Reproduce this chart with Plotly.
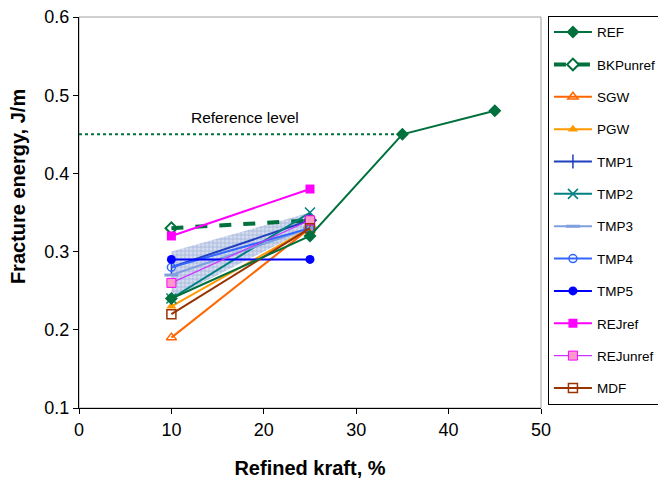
import plotly.graph_objects as go

# Refined kraft content (%) and fracture energy (J/m) per pulp series
x_ref = [10, 25, 35, 45]
y_ref = [0.24, 0.32, 0.45, 0.48]
x_pair = [10, 25]
series = [
    # name, values at 10 % and 25 %
    ("BKPunref", [0.33, 0.34]),
    ("SGW", [0.19, 0.33]),
    ("PGW", [0.23, 0.33]),
    ("TMP1", [0.28, 0.34]),
    ("TMP2", [0.24, 0.35]),
    ("TMP3", [0.27, 0.33]),
    ("TMP4", [0.28, 0.33]),
    ("TMP5", [0.29, 0.29]),
    ("REJref", [0.32, 0.38]),
    ("REJunref", [0.26, 0.34]),
    ("MDF", [0.22, 0.33]),
]
# TMP range band (upper and lower edge at 10 % and 25 %)
band_upper = [0.30, 0.35]
band_lower = [0.24, 0.33]
# reference level line
ref_level_x = [0, 35]
ref_level_y = [0.45, 0.45]

x_ticks = [0, 10, 20, 30, 40, 50]
y_ticks = [0.1, 0.2, 0.3, 0.4, 0.5, 0.6]

styles = {
    "BKPunref": dict(line=dict(color="#00703C", width=4, dash="dash"),
                     marker=dict(symbol="diamond-open", size=9, color="#00703C", line=dict(width=2))),
    "SGW": dict(line=dict(color="#FF6600", width=2),
                marker=dict(symbol="triangle-up-open", size=9, color="#FF6600", line=dict(width=1.5))),
    "PGW": dict(line=dict(color="#FF9900", width=2),
                marker=dict(symbol="triangle-up", size=9, color="#FF9900")),
    "TMP1": dict(line=dict(color="#1F3FBF", width=2),
                 marker=dict(symbol="line-ns-open", size=10, color="#1F3FBF", line=dict(width=1.5, color="#1F3FBF"))),
    "TMP2": dict(line=dict(color="#008080", width=2),
                 marker=dict(symbol="x-thin-open", size=10, color="#008080", line=dict(width=1.5, color="#008080"))),
    "TMP3": dict(line=dict(color="#7F9FDF", width=2),
                 marker=dict(symbol="line-ew-open", size=10, color="#7F9FDF", line=dict(width=3, color="#7F9FDF"))),
    "TMP4": dict(line=dict(color="#3366FF", width=2),
                 marker=dict(symbol="circle-open", size=8, color="#3366FF", line=dict(width=1.5))),
    "TMP5": dict(line=dict(color="#0000FF", width=2),
                 marker=dict(symbol="circle", size=9, color="#0000FF")),
    "REJref": dict(line=dict(color="#FF00FF", width=2),
                   marker=dict(symbol="square", size=9, color="#FF00FF")),
    "REJunref": dict(line=dict(color="#CC33FF", width=1.2),
                     marker=dict(symbol="square", size=9, color="#FF99CC", line=dict(color="#FF00FF", width=1))),
    "MDF": dict(line=dict(color="#993300", width=2),
                marker=dict(symbol="square-open", size=9, color="#993300", line=dict(width=1.5))),
}

fig = go.Figure()

# shaded TMP band
fig.add_trace(go.Scatter(
    x=x_pair + x_pair[::-1], y=band_upper + band_lower[::-1],
    fill="toself", mode="none", showlegend=False, hoverinfo="skip",
    fillcolor="rgba(190,203,232,1)",
    fillpattern=dict(shape="+", fgcolor="#7F96CC", bgcolor="#D4DCEF",
                     size=4, solidity=0.4),
))

fig.add_trace(go.Scatter(
    x=ref_level_x, y=ref_level_y, mode="lines", showlegend=False,
    line=dict(color="#00703C", width=2, dash="dot"),
))

fig.add_trace(go.Scatter(
    x=x_ref, y=y_ref, name="REF", mode="lines+markers", legendgroup="REF",
    line=dict(color="#00703C", width=2),
    marker=dict(symbol="diamond", size=10, color="#00703C"),
))
for name, vals in series:
    fig.add_trace(go.Scatter(x=x_pair, y=vals, name=name, mode="lines+markers",
                             legendgroup=name, **styles[name]))

# draw order: series drawn later cover earlier ones; keep REF on top near 25 %
fig.data = fig.data[:2] + fig.data[3:] + (fig.data[2],)
# keep legend order
for i, name in enumerate(["REF"] + [s[0] for s in series]):
    for tr in fig.data:
        if tr.name == name:
            tr.legendrank = i + 1

fig.add_annotation(x=18, y=0.472, text="Reference level", showarrow=False,
                   font=dict(size=15.5, color="#000000"))

# y-axis title, placed a little above the axis centre
fig.add_annotation(xref="paper", yref="paper", x=-0.132, y=0.565,
                   text="<b>Fracture energy, J/m</b>", textangle=-90, showarrow=False,
                   xanchor="center", yanchor="middle", font=dict(size=20, color="#000000"))

# light frame on top/right of plot area
fig.add_shape(type="rect", xref="paper", yref="paper", x0=0, y0=0, x1=1, y1=1,
              line=dict(color="#A0A0A0", width=1), layer="below")

fig.update_layout(
    width=658, height=480,
    margin=dict(l=79, r=117, t=17, b=72, autoexpand=False),
    paper_bgcolor="white", plot_bgcolor="white",
    font=dict(family="Liberation Sans, Arial, sans-serif", color="#000000"),
    legend=dict(x=1.015, xanchor="left", y=1.003, yanchor="top",
                bordercolor="#000000", borderwidth=1, bgcolor="white",
                font=dict(size=13.5), tracegroupgap=11.8, itemwidth=38,
                traceorder="grouped", maxheight=460),
    xaxis=dict(range=[0, 50], tickvals=x_ticks, showgrid=False, zeroline=False,
               showline=True, linecolor="#000000", linewidth=1,
               ticks="outside", ticklen=5, tickcolor="#000000",
               tickfont=dict(size=18),
               title=dict(text="<b>Refined kraft, %</b>", font=dict(size=20), standoff=22)),
    yaxis=dict(range=[0.1, 0.6], tickvals=y_ticks, tickformat=".1f", showgrid=False,
               zeroline=False, showline=True, linecolor="#000000", linewidth=1,
               ticks="outside", ticklen=5, tickcolor="#000000",
               tickfont=dict(size=18)),
)

fig.write_html("out.html")
